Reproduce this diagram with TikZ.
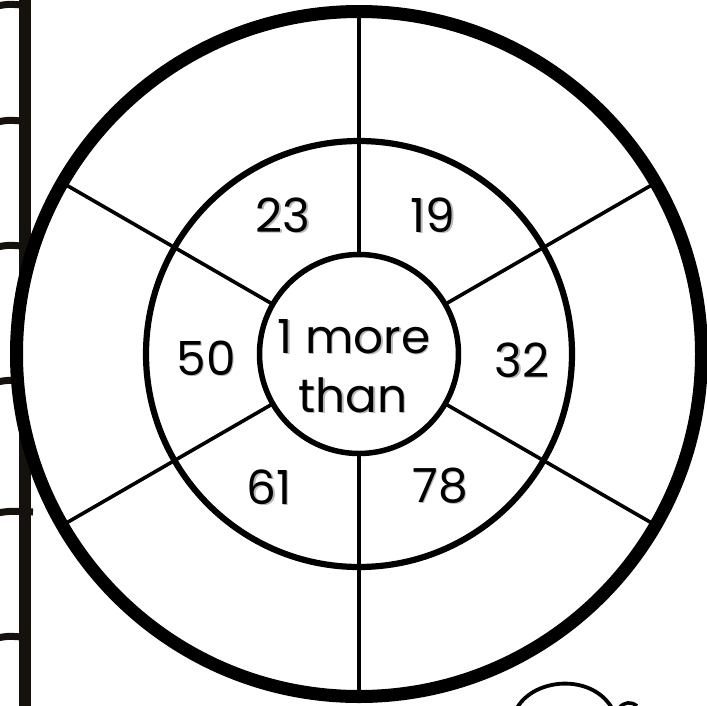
\documentclass[tikz,border=0pt]{standalone}
\usepackage{fontspec}
\setmainfont{Poppins}
\definecolor{ink}{HTML}{000000}
\definecolor{ladderink}{HTML}{15120E}
\begin{document}
\begin{tikzpicture}[x=1pt,y=-1pt,
  spoke/.style={line width=3.6, draw=ink},
  ring/.style={draw=ink},
  num/.style={font=\fontsize{47}{59}\selectfont, inner sep=0pt, anchor=base, text=ink},
  shade/.style={num, text=black!28},
  rung/.style={line width=7, draw=ladderink},
]
\useasboundingbox[fill=white] (0,0) rectangle (707,705);
\coordinate (c) at (359,354);
% ladder on the left (behind the wheel)
\fill[ladderink] (19,-5) rectangle (31,712);
\foreach \y in {5,121,246,381,637}
  \draw[rung] (-3,\y+1) .. controls (8,\y-1) .. (22,\y);
\draw[rung] (-3,513) .. controls (10,511) .. (33,512);
% wheel background
\fill[white] (c) circle[radius=342.5];
% spokes
\foreach \a in {90,270,30,150,210,330}
  \draw[spoke] (c) ++(\a:100) -- ++(\a:242);
% rings
\draw[ring, line width=13] (c) circle[radius=342.5];
\draw[ring, line width=6.2] (c) circle[radius=213];
\draw[ring, line width=5.5] (c) circle[radius=99.5];
% curl at bottom right
\draw[line width=3.8, draw=ink] (517,708) .. controls (534,678) and (591,673) .. (612,708);
\draw[line width=3.5, draw=ink] (619,708) .. controls (624,702) and (631,701) .. (637,706);
% text shadows
\node[shade] at (284.5,233.5) {23};
\node[shade] at (434.5,233.5) {19};
\node[shade] at (207.5,376.5) {50};
\node[shade] at (523.5,378.5) {32};
\node[shade] at (270.5,505.5) {61};
\node[shade] at (441.5,503.5) {78};
\node[shade] at (355.5,354.5) {1 more};
\node[shade] at (354.5,413.5) {than};
% texts
\node[num] (n23) at (283,232) {23};
\node[num] (n19) at (433,232) {19};
\node[num] (n50) at (206,375) {50};
\node[num] (n32) at (522,377) {32};
\node[num] (n61) at (269,504) {61};
\node[num] (n78) at (440,502) {78};
\node[num] (more) at (354,353) {1 more};
\node[num] (than) at (353,412) {than};
\end{tikzpicture}
\end{document}
